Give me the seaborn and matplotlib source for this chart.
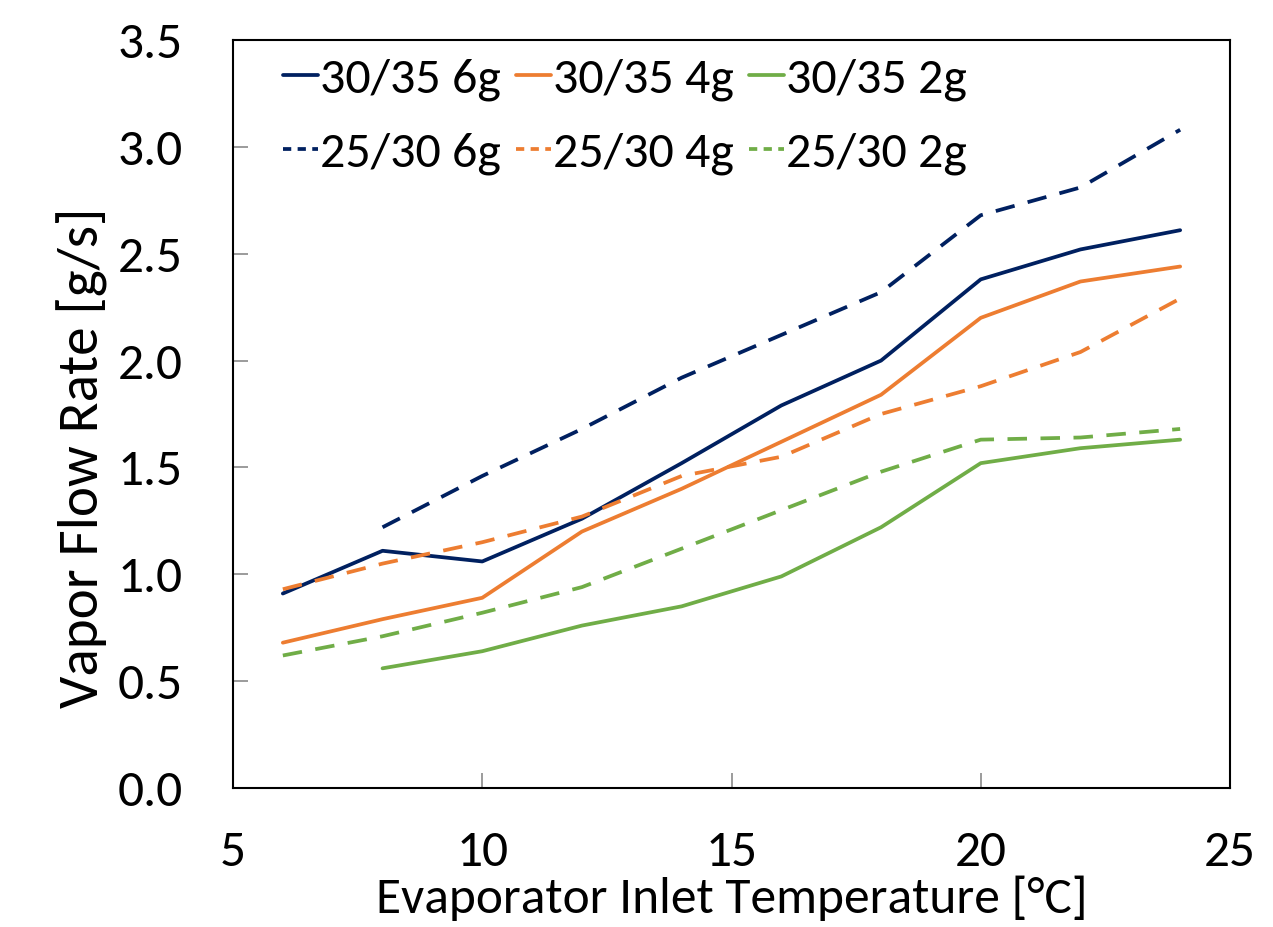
import matplotlib
matplotlib.use("Agg")
import matplotlib.pyplot as plt
from matplotlib.lines import Line2D
import seaborn as sns
import numpy as np
import pandas as pd

# ---- data ----
x_all = [6, 8, 10, 12, 14, 16, 18, 20, 22, 24]
x_from8 = [8, 10, 12, 14, 16, 18, 20, 22, 24]

s30_6g = [0.91, 1.11, 1.06, 1.26, 1.52, 1.79, 2.00, 2.38, 2.52, 2.61]
s30_4g = [0.68, 0.79, 0.89, 1.20, 1.40, 1.62, 1.84, 2.20, 2.37, 2.44]
s30_2g = [0.56, 0.64, 0.76, 0.85, 0.99, 1.22, 1.52, 1.59, 1.63]
s25_6g = [1.22, 1.46, 1.68, 1.92, 2.12, 2.32, 2.68, 2.81, 3.08]
s25_4g = [0.93, 1.05, 1.15, 1.27, 1.46, 1.55, 1.75, 1.88, 2.04, 2.29]
s25_2g = [0.62, 0.71, 0.82, 0.94, 1.12, 1.30, 1.48, 1.63, 1.64, 1.68]

labels = ["30/35 6g", "30/35 4g", "30/35 2g", "25/30 6g", "25/30 4g", "25/30 2g"]
x_ticks = [5, 10, 15, 20, 25]
y_ticks = [0.0, 0.5, 1.0, 1.5, 2.0, 2.5, 3.0, 3.5]

NAVY = "#002060"
ORANGE = "#ED7D31"
GREEN = "#70AD47"

sns.set_theme(style="white")
plt.rcParams["font.family"] = ["Carlito", "Liberation Sans Narrow", "Open Sans", "DejaVu Sans"]
plt.rcParams["text.color"] = "black"

fig = plt.figure(figsize=(12.73, 9.27), dpi=100)
ax = fig.add_axes([233 / 1273, 1 - 788 / 927, (1230 - 233) / 1273, (788 - 40) / 927])

LW = 2.7
series = [
    (x_all, s30_6g, NAVY, "-", labels[0]),
    (x_all, s30_4g, ORANGE, "-", labels[1]),
    (x_from8, s30_2g, GREEN, "-", labels[2]),
    (x_from8, s25_6g, NAVY, "--", labels[3]),
    (x_all, s25_4g, ORANGE, "--", labels[4]),
    (x_all, s25_2g, GREEN, "--", labels[5]),
]
handles = {}
for xs, ys, c, ls, lab in series:
    df = pd.DataFrame({"x": xs, "y": ys})
    sns.lineplot(data=df, x="x", y="y", ax=ax, color=c, linewidth=LW, label=lab)
    line = ax.lines[-1]
    if ls == "--":
        line.set_dashes((5.2, 3.6))
        handles[lab] = Line2D([], [], color=c, linewidth=LW, dashes=(2.2, 1.7))
    else:
        handles[lab] = Line2D([], [], color=c, linewidth=LW)

ax.set_xlim(5, 25)
ax.set_ylim(0, 3.5)
ax.set_xticks(x_ticks)
ax.set_yticks(y_ticks)
ax.set_xticklabels([str(v) for v in x_ticks])
ax.set_yticklabels([f"{v:.1f}" for v in y_ticks])

for sp in ax.spines.values():
    sp.set_color("black")
    sp.set_linewidth(1.5)
    sp.set_visible(True)

FS = 37
ax.tick_params(axis="both", which="major", direction="in", length=11, width=1.1,
               color="#808080", labelsize=FS, labelcolor="black")
ax.tick_params(axis="y", pad=36, left=True)
ax.tick_params(axis="x", pad=30, bottom=True)

ax.set_xlabel("Evaporator Inlet Temperature [°C]", fontsize=FS, color="black")
ax.set_ylabel("Vapor Flow Rate [g/s]", fontsize=41, color="black")
ax.xaxis.set_label_coords(0.5, -0.117)
ax.yaxis.set_label_coords(-0.125, 0.442)

order = [labels[0], labels[3], labels[1], labels[4], labels[2], labels[5]]
leg = ax.legend([handles[l] for l in order], order, ncol=3, loc="upper left",
                bbox_to_anchor=(0.030, 1.003), frameon=False, fontsize=36,
                handlelength=0.7, handletextpad=0.04, columnspacing=0.3,
                labelspacing=0.6, borderaxespad=0.0, labelcolor="black")

fig.savefig("out.png", dpi=100, facecolor="white")
